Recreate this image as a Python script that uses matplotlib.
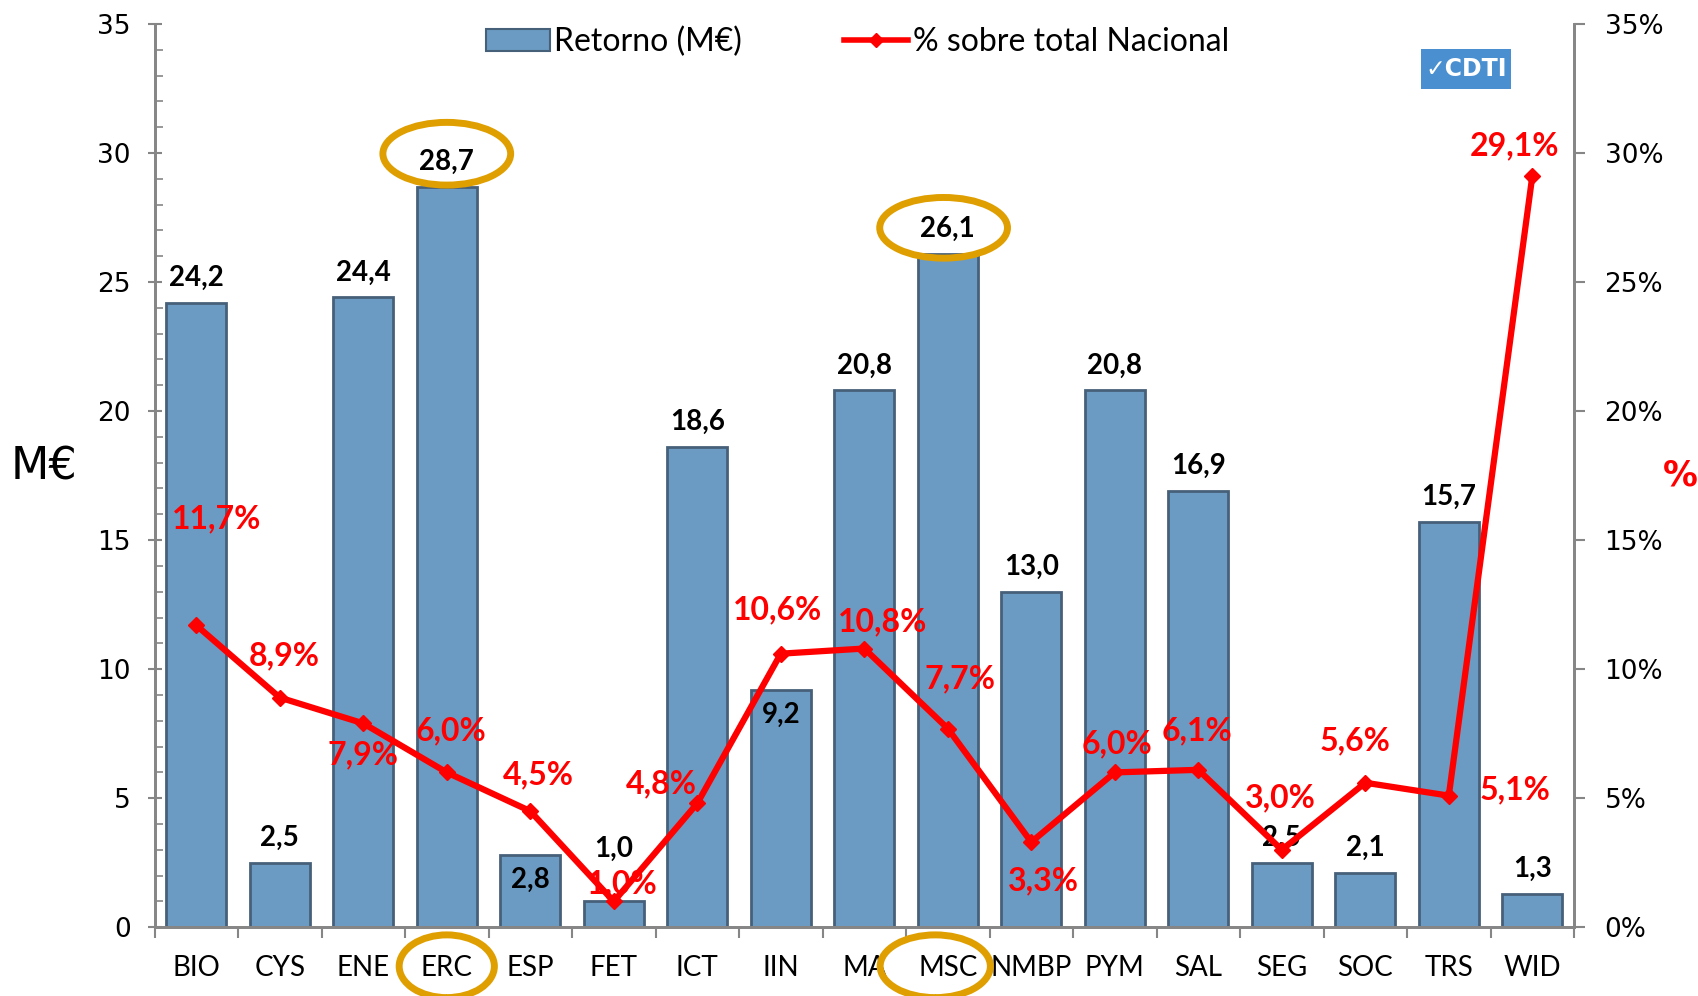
import numpy as np
import matplotlib
matplotlib.use("Agg")
import matplotlib.pyplot as plt
from matplotlib.patches import Ellipse, Rectangle
from matplotlib.lines import Line2D
from matplotlib.ticker import MultipleLocator, FixedLocator

# datos
categorias = ["BIO", "CYS", "ENE", "ERC", "ESP", "FET", "ICT", "IIN", "MA", "MSC",
              "NMBP", "PYM", "SAL", "SEG", "SOC", "TRS", "WID"]
retorno = [24.2, 2.5, 24.4, 28.7, 2.8, 1.0, 18.6, 9.2, 20.8, 26.1,
           13.0, 20.8, 16.9, 2.5, 2.1, 15.7, 1.3]
pct_nacional = [11.7, 8.9, 7.9, 6.0, 4.5, 1.0, 4.8, 10.6, 10.8, 7.7,
                3.3, 6.0, 6.1, 3.0, 5.6, 5.1, 29.1]
pct_ticks = [0, 5, 10, 15, 20, 25, 30, 35]

# offsets (pixels) de las etiquetas de porcentaje
pct_off = [(20, 106), (4, 42), (0, -31), (4, 42), (8, 36), (9, 18), (-36, 20),
           (-3, 44), (18, 27), (12, 50), (12, -39), (2, 29), (-1, 39), (-1, 52),
           (-10, 42), (66, 6), (-18, 30)]
dentro = ["ESP", "IIN"]   # etiqueta dentro de la barra
extra_alto = {"FET": 28}  # etiqueta de barra un poco más arriba

FONT = ["Lato", "DejaVu Sans"]
GRIS = "#868686"
AZUL = "#6b9bc3"
BORDE = "#46607a"
ORO = "#e09f00"

fig = plt.figure(figsize=(16.98, 9.96), dpi=100)
ax = fig.add_axes([0.091, 0.069, 0.836, 0.907])
ax2 = ax.twinx()

x = np.arange(len(categorias))
ax.bar(x, retorno, width=0.72, color=AZUL, edgecolor=BORDE, linewidth=2, zorder=2)

for xi, v, c in zip(x, retorno, categorias):
    txt = f"{v:.1f}".replace(".", ",")
    if c in dentro:
        ax.annotate(txt, (xi, v), xytext=(0, -12), textcoords="offset pixels",
                    ha="center", va="top", fontsize=20, fontweight="bold", family=FONT)
    else:
        ax.annotate(txt, (xi, v), xytext=(0, 12 + extra_alto.get(c, 0)),
                    textcoords="offset pixels", ha="center", va="bottom",
                    fontsize=20, fontweight="bold", family=FONT)

ax2.plot(x, pct_nacional, color="red", lw=4.5, marker="D", markersize=8, zorder=5)
for xi, p, off in zip(x, pct_nacional, pct_off):
    ax2.annotate(f"{p:.1f}%".replace(".", ","), (xi, p), xytext=off,
                 textcoords="offset pixels", ha="center", va="center",
                 fontsize=23, fontweight="bold", color="red", family=FONT, zorder=6)

ax.set_xlim(-0.5, len(categorias) - 0.5)
ax.yaxis.set_major_locator(MultipleLocator(5))
ax.yaxis.set_minor_locator(MultipleLocator(1))
ax.set_ylim(0, 35)
ax2.set_yticks(pct_ticks)
ax2.set_yticklabels([f"{t}%" for t in pct_ticks])
ax2.set_ylim(0, 35)

ax.set_xticks(x)
ax.set_xticklabels(categorias, family=FONT, fontsize=20)
ax.xaxis.set_minor_locator(FixedLocator(np.arange(-0.5, len(categorias), 1.0)))
ax.tick_params(axis="x", which="major", length=0, pad=20)
ax.tick_params(axis="x", which="minor", length=8, width=1.5, color=GRIS, direction="out")
ax.tick_params(axis="y", which="major", length=10, width=1.5, color=GRIS,
               direction="inout", labelsize=19, pad=12)
ax.tick_params(axis="y", which="minor", length=6, width=1.2, color=GRIS, direction="in")
ax2.tick_params(axis="y", length=8, width=1.5, color=GRIS, direction="out",
                labelsize=19, pad=14)

for a in (ax, ax2):
    a.spines["top"].set_visible(False)
    for s in ("left", "right", "bottom"):
        a.spines[s].set_color(GRIS)
        a.spines[s].set_linewidth(2)

ax.set_ylabel("M€", fontsize=32, rotation=0, va="center")
ax2.set_ylabel("%", fontsize=25, rotation=0, va="center",
               color="red", fontweight="bold")
ax2.yaxis.set_label_coords(1.075, 0.5)
ax.yaxis.set_label_coords(-0.078, 0.51)

ax.set_zorder(ax2.get_zorder() - 1)
ax.patch.set_visible(False)

# círculos destacados
elipses = [(3.0, 29.97, 1.53, 2.43), (8.95, 27.1, 1.53, 2.35),
           (3.0, -1.51, 1.14, 2.43), (8.85, -1.51, 1.32, 2.43)]
for cx, cy, w, h in elipses:
    ax.add_patch(Ellipse((cx, cy), w, h, fill=False, edgecolor=ORO, lw=5,
                         clip_on=False, zorder=10))

# leyenda
handles = [Rectangle((0, 0), 1, 1, facecolor=AZUL, edgecolor=BORDE, lw=1.5),
           Line2D([], [], color="red", lw=4, marker="D", markersize=7)]
leg = fig.legend(handles, ["Retorno (M€)", "% sobre total Nacional"], ncol=2,
                 loc="center", bbox_to_anchor=(0.505, 0.958), frameon=False,
                 prop={"family": FONT, "size": 23}, handlelength=2.0,
                 handletextpad=0.15, columnspacing=3.2)

# logo
fig.patches.append(Rectangle((1421 / 1698, 1 - 89 / 996), 90 / 1698, 40 / 996,
                             transform=fig.transFigure, facecolor="#4a90d0",
                             edgecolor="none"))
fig.text(1466 / 1698, 1 - 69 / 996, "✓CDTI", color="white", fontsize=17,
         fontweight="bold", ha="center", va="center", family="DejaVu Sans Condensed")

fig.savefig("out.png", dpi=100)
